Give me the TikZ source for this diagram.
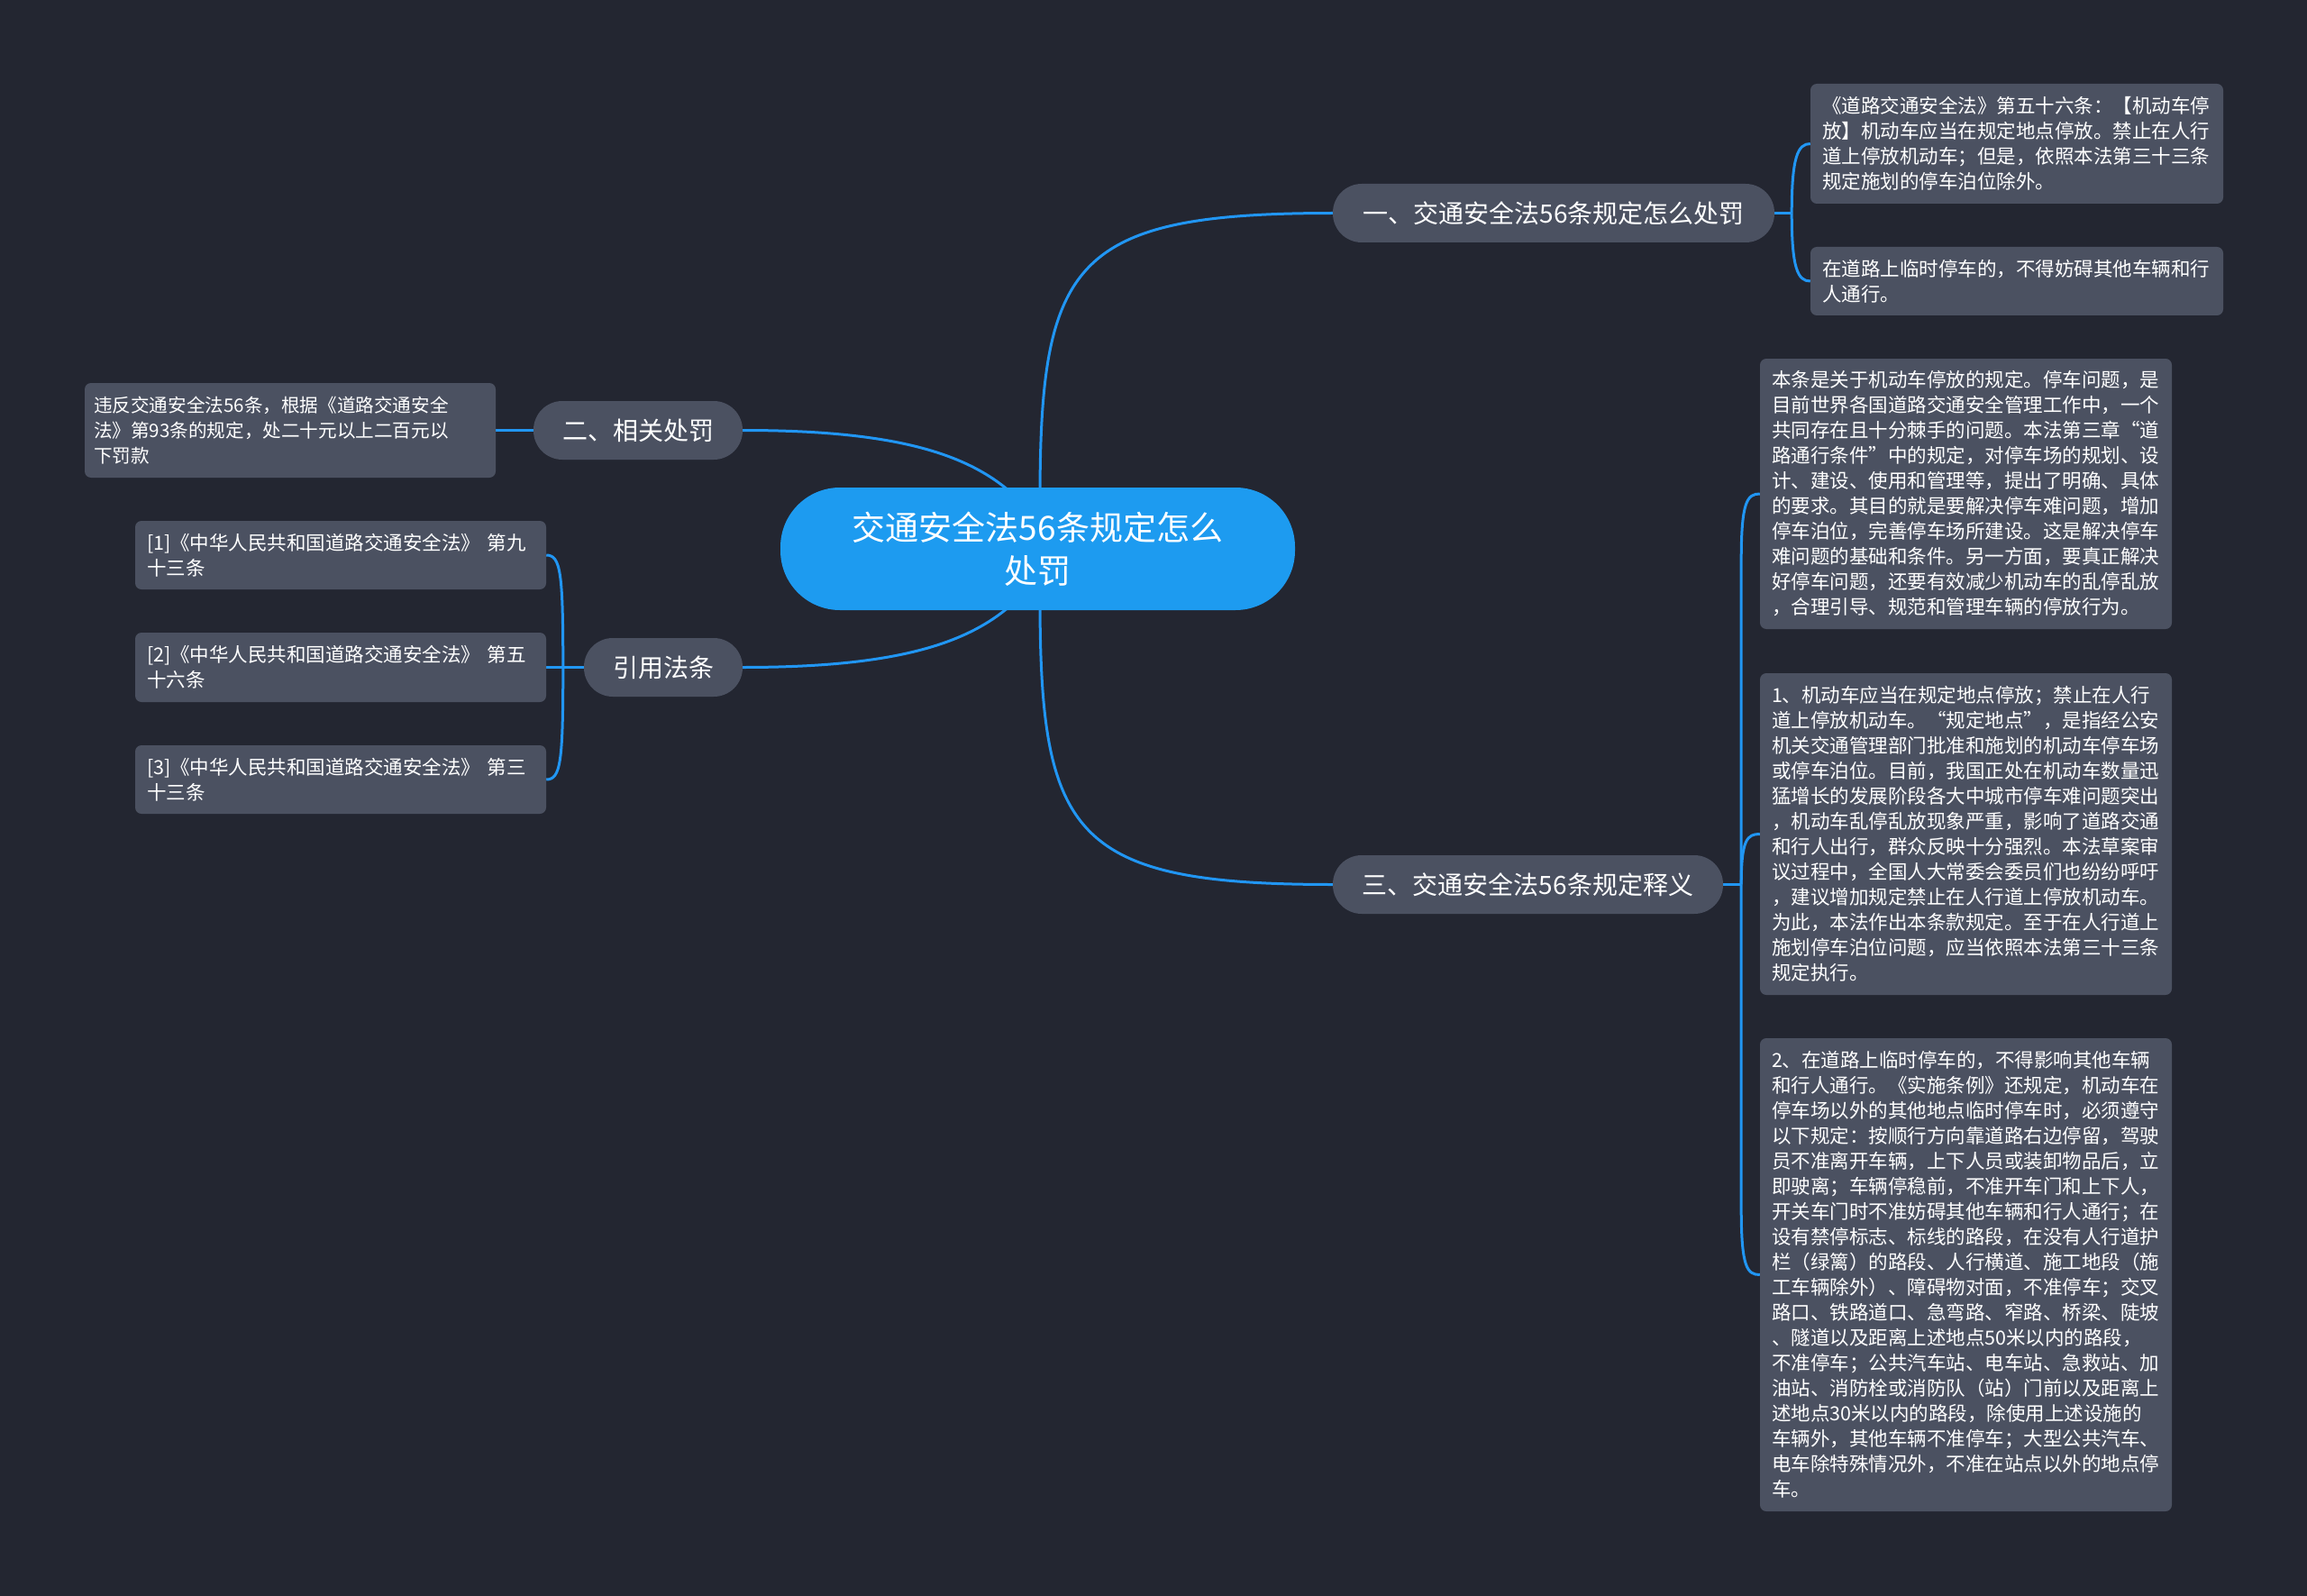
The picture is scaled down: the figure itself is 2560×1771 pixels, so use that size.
\documentclass[tikz,border=0pt]{standalone}
\usepackage{fontspec}
\setmainfont{Noto Sans CJK SC}
\usetikzlibrary{calc,backgrounds}
\definecolor{bgc}{RGB}{35,38,49}
\definecolor{nodegray}{RGB}{75,81,97}
\definecolor{lineblue}{RGB}{33,150,243}
\definecolor{centerblue}{RGB}{29,155,240}
\begin{document}
\begin{tikzpicture}[x=1pt,y=-1pt,
  leaf/.style={fill=nodegray, rounded corners=7pt, text=white,
    font=\fontsize{21.5}{28}\selectfont, text width=432pt, align=left,
    inner xsep=13pt, inner ysep=0pt},
  branch/.style={fill=nodegray, rounded corners=32pt, text=white,
    font=\fontsize{28}{34}\selectfont, minimum height=65pt,
    inner xsep=0pt, inner ysep=0pt},
  root/.style={fill=centerblue, rounded corners=66pt, text=white,
    font=\fontsize{37}{48}\selectfont, align=center,
    minimum width=571pt, minimum height=136pt, inner sep=0pt},
  link/.style={draw=lineblue, line width=3pt}]
\useasboundingbox (0,0) rectangle (2560,1771);

% central node
\node[root] (c) at (1151.5,609) {交通安全法56条规定怎么\\处罚};

% branches
\node[branch, minimum width=490pt] (b1) at (1724,236.5) {一、交通安全法56条规定怎么处罚};
\node[branch, minimum width=232pt] (b2) at (708,477.5) {二、相关处罚};
\node[branch, minimum width=176pt] (b3) at (736,740.5) {引用法条};
\node[branch, minimum width=433pt] (b4) at (1695.5,981.5) {三、交通安全法56条规定释义};

% leaves of branch 1
\node[leaf, minimum height=133pt] (l1a) at (2238,159.5) {《道路交通安全法》第五十六条：【机动车停\\放】机动车应当在规定地点停放。禁止在人行\\道上停放机动车；但是，依照本法第三十三条\\规定施划的停车泊位除外。};
\node[leaf, minimum height=76pt] (l1b) at (2238,312) {在道路上临时停车的，不得妨碍其他车辆和行\\人通行。};

% leaf of branch 2
\node[leaf, text width=436pt, inner xsep=10pt, font=\fontsize{20.6}{28}\selectfont, minimum height=105pt] (l2) at (322,477.5) {违反交通安全法56条，根据《道路交通安全\\法》第93条的规定，处二十元以上二百元以\\下罚款};

% leaves of branch 3 (references)
\node[leaf, text width=430pt, minimum height=76pt] (r1) at (378,616) {[1]《中华人民共和国道路交通安全法》 第九\\十三条};
\node[leaf, text width=430pt, minimum height=77pt] (r2) at (378,740.5) {[2]《中华人民共和国道路交通安全法》 第五\\十六条};
\node[leaf, text width=430pt, minimum height=76pt] (r3) at (378,865) {[3]《中华人民共和国道路交通安全法》 第三\\十三条};

% leaves of branch 4
\node[leaf, text width=431pt, minimum height=300pt] (d1) at (2181.5,548) {本条是关于机动车停放的规定。停车问题，是\\目前世界各国道路交通安全管理工作中，一个\\共同存在且十分棘手的问题。本法第三章“道\\路通行条件”中的规定，对停车场的规划、设\\计、建设、使用和管理等，提出了明确、具体\\的要求。其目的就是要解决停车难问题，增加\\停车泊位，完善停车场所建设。这是解决停车\\难问题的基础和条件。另一方面，要真正解决\\好停车问题，还要有效减少机动车的乱停乱放\\，合理引导、规范和管理车辆的停放行为。};
\node[leaf, text width=431pt, minimum height=357pt] (d2) at (2181.5,925.5) {1、机动车应当在规定地点停放；禁止在人行\\道上停放机动车。“规定地点”，是指经公安\\机关交通管理部门批准和施划的机动车停车场\\或停车泊位。目前，我国正处在机动车数量迅\\猛增长的发展阶段各大中城市停车难问题突出\\，机动车乱停乱放现象严重，影响了道路交通\\和行人出行，群众反映十分强烈。本法草案审\\议过程中，全国人大常委会委员们也纷纷呼吁\\，建议增加规定禁止在人行道上停放机动车。\\为此，本法作出本条款规定。至于在人行道上\\施划停车泊位问题，应当依照本法第三十三条\\规定执行。};
\node[leaf, text width=431pt, minimum height=525pt] (d3) at (2181.5,1414.5) {2、在道路上临时停车的，不得影响其他车辆\\和行人通行。《实施条例》还规定，机动车在\\停车场以外的其他地点临时停车时，必须遵守\\以下规定：按顺行方向靠道路右边停留，驾驶\\员不准离开车辆，上下人员或装卸物品后，立\\即驶离；车辆停稳前，不准开车门和上下人，\\开关车门时不准妨碍其他车辆和行人通行；在\\设有禁停标志、标线的路段，在没有人行道护\\栏（绿篱）的路段、人行横道、施工地段（施\\工车辆除外）、障碍物对面，不准停车；交叉\\路口、铁路道口、急弯路、窄路、桥梁、陡坡\\、隧道以及距离上述地点50米以内的路段，\\不准停车；公共汽车站、电车站、急救站、加\\油站、消防栓或消防队（站）门前以及距离上\\述地点30米以内的路段，除使用上述设施的\\车辆外，其他车辆不准停车；大型公共汽车、\\电车除特殊情况外，不准在站点以外的地点停\\车。};

% junction points of the brackets
\coordinate (j1) at ($(b1.east)+(19,0)$);
\coordinate (j3) at ($(b3.west)+(-23,0)$);
\coordinate (j4) at ($(b4.east)+(20,0)$);

\begin{scope}[on background layer]
\fill[bgc] (0,0) rectangle (2560,1771);
% main curves
\draw[link] ($(c.north)+(2.5,15)$) .. controls (1154,290) and (1190,236.5) .. (b1.west);
\draw[link] ($(c.south)+(2.5,-15)$) .. controls (1154,928) and (1190,981.5) .. (b4.west);
\draw[link] (b2.east) .. controls (1000,477.5) and (1085,505) .. ($(c.north)+(-15,20)$);
\draw[link] (b3.east) .. controls (1000,740.5) and (1085,713) .. ($(c.south)+(-15,-20)$);
% branch 1 bracket
\draw[link] (b1.east) -- (j1);
\draw[link] (j1) .. controls ($(j1)+(0,-62)$) and ($(l1a.west)+(-14,0)$) .. (l1a.west);
\draw[link] (j1) .. controls ($(j1)+(0,61)$) and ($(l1b.west)+(-14,0)$) .. (l1b.west);
% branch 2
\draw[link] (l2.east) -- (b2.west);
% branch 3 bracket
\draw[link] (b3.west) -- (j3);
\draw[link] (j3) .. controls ($(j3)+(0,-105)$) and ($(r1.east)+(16,0)$) .. (r1.east);
\draw[link] (j3) -- (r2.east);
\draw[link] (j3) .. controls ($(j3)+(0,105)$) and ($(r3.east)+(16,0)$) .. (r3.east);
% branch 4 bracket
\draw[link] (b4.east) -- (j4);
\draw[link] (j4) -- ($(j4)+(0,-360)$) .. controls ($(j4)+(0,-425)$) and ($(d1.west)+(-14,0)$) .. (d1.west);
\draw[link] (j4) .. controls ($(j4)+(0,-50)$) and ($(d2.west)+(-14,0)$) .. (d2.west);
\draw[link] (j4) -- ($(j4)+(0,360)$) .. controls ($(j4)+(0,425)$) and ($(d3.west)+(-14,0)$) .. (d3.west);
\end{scope}
\end{tikzpicture}
\end{document}
